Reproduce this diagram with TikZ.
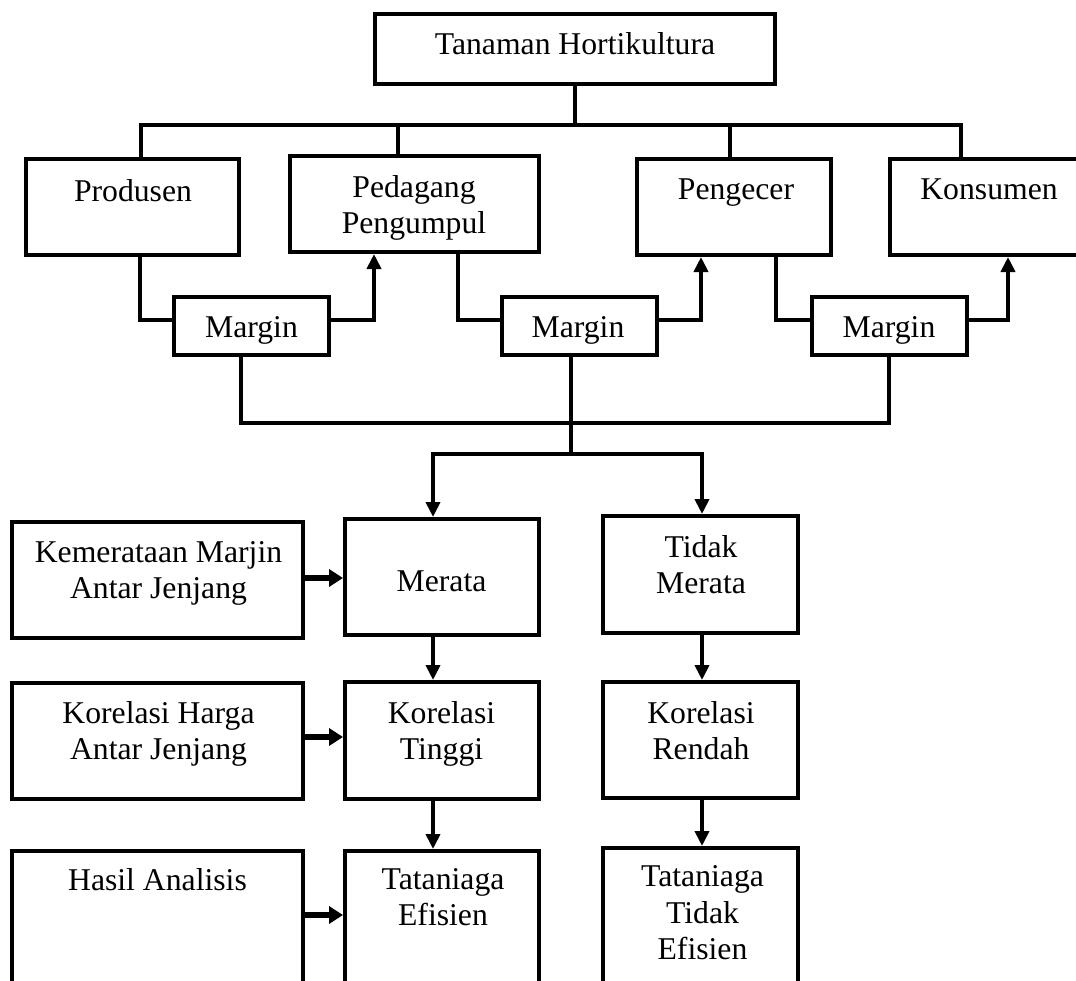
\documentclass[tikz,border=0pt]{standalone}
\usepackage{fontspec}
\setmainfont{Liberation Serif}
\usetikzlibrary{arrows.meta}
\tikzset{
  box/.style={draw, line width=4pt, inner sep=0pt, minimum width=#1},
  txt/.style={font=\fontsize{31.7}{36}\selectfont, align=center, inner sep=0pt, anchor=north},
  ln/.style={line width=4pt},
  arr/.style={line width=4pt, -{Triangle[width=14pt,length=15pt]}},
  harr/.style={line width=6pt, -{Triangle[width=17pt,length=14pt]}}
}
\begin{document}
\begin{tikzpicture}[x=1pt,y=-1pt]
\useasboundingbox (0,0) rectangle (1076,980);
\clip (0,0) rectangle (1076,980);

% boxes
\node[box=400pt, minimum height=70pt] (top) at (575,49) {};
\node[box=213pt, minimum height=96pt] (prod) at (132.5,207) {};
\node[box=249pt, minimum height=96pt] (ped) at (414.5,204) {};
\node[box=194pt, minimum height=96pt] (peng) at (734,207) {};
\node[box=210pt, minimum height=96pt] (kons) at (995,207) {};
\node[box=155pt, minimum height=58pt] (m1) at (251.5,326) {};
\node[box=155pt, minimum height=58pt] (m2) at (579.5,326) {};
\node[box=155pt, minimum height=58pt] (m3) at (889.5,326) {};
\node[box=291pt, minimum height=116pt] (kem) at (157.5,580) {};
\node[box=194pt, minimum height=116pt] (mer) at (442,577) {};
\node[box=195pt, minimum height=117pt] (tm) at (700.5,574.5) {};
\node[box=291pt, minimum height=116pt] (kh) at (157.5,741) {};
\node[box=194pt, minimum height=117pt] (kt) at (442,740.5) {};
\node[box=195pt, minimum height=116pt] (kr) at (700.5,740) {};
\node[box=291pt, minimum height=149pt] (ha) at (157.5,925.5) {};
\node[box=194pt, minimum height=149pt] (te) at (442,925.5) {};
\node[box=195pt, minimum height=152pt] (tte) at (700.5,924) {};

% texts
\node[txt] (topT) at (575,32.5) {Tanaman Hortikultura};
\node[txt] (prodT) at (133,179.5) {Produsen};
\node[txt] (pedT) at (414,175.5) {Pedagang\\Pengumpul};
\node[txt] (pengT) at (736,178.5) {Pengecer};
\node[txt] (konsT) at (989,178.5) {Konsumen};
\node[txt] (m1T) at (251.5,316.5) {Margin};
\node[txt] (m2T) at (578,316.5) {Margin};
\node[txt] (m3T) at (889,316.5) {Margin};
\node[txt] (kemT) at (158.5,541.5) {Kemerataan Marjin\\Antar Jenjang};
\node[txt] (merT) at (441.5,570.5) {Merata};
\node[txt] (tmT) at (701,535.5) {Tidak\\Merata};
\node[txt] (khT) at (158.5,701.5) {Korelasi Harga\\Antar Jenjang};
\node[txt] (ktT) at (441.5,701.5) {Korelasi\\Tinggi};
\node[txt] (krT) at (701,701.5) {Korelasi\\Rendah};
\node[txt] (haT) at (157.5,868.5) {Hasil Analisis};
\node[txt] (teT) at (443,868.5) {Tataniaga\\Efisien};
\node[txt, font=\fontsize{31.7}{36.5}\selectfont] (tteT) at (702.5,865.5) {Tataniaga\\Tidak\\Efisien};

% top bus
\coordinate (busL) at (141,125);
\coordinate (busR) at (961,125);
\coordinate (dPed) at (398,125);
\coordinate (dPeng) at (730,125);
\draw[ln] (top.south) -- (top.south |- busL);
\draw[ln] (prod.north -| busL) -- (busL) -- (busR) -- (kons.north -| busR);
\draw[ln] (dPed) -- (dPed |- ped.north);
\draw[ln] (dPeng) -- (dPeng |- peng.north);

% margin row
\coordinate (ym) at (0,320);
\coordinate (x1) at (140,0);
\coordinate (x2) at (374,0);
\coordinate (x3) at (458,0);
\coordinate (x4) at (701,0);
\coordinate (x5) at (776,0);
\coordinate (x6) at (1008,0);
\draw[ln] (prod.south -| x1) |- (m1.west |- ym);
\draw[arr] (m1.east |- ym) -| (ped.south -| x2);
\draw[ln] (ped.south -| x3) |- (m2.west |- ym);
\draw[arr] (m2.east |- ym) -| (peng.south -| x4);
\draw[ln] (peng.south -| x5) |- (m3.west |- ym);
\draw[arr] (m3.east |- ym) -| (kons.south -| x6);

% lower bus
\coordinate (busB) at (571,423);
\coordinate (xb1) at (241,0);
\coordinate (xb3) at (889,0);
\coordinate (br) at (571,454);
\coordinate (brL) at (433,454);
\coordinate (brR) at (702,454);
\draw[ln] (m1.south -| xb1) |- (busB);
\draw[ln] (m3.south -| xb3) |- (busB);
\draw[ln] (m2.south -| busB) -- (br);
\draw[arr] (br) -| (mer.north -| brL);
\draw[arr] (br) -| (tm.north -| brR);

% vertical arrows
\coordinate (xl) at (433,0);
\coordinate (xr) at (702,0);
\draw[arr] (mer.south -| xl) -- (kt.north -| xl);
\draw[arr] (kt.south -| xl) -- (te.north -| xl);
\draw[arr] (tm.south -| xr) -- (kr.north -| xr);
\draw[arr] (kr.south -| xr) -- (tte.north -| xr);

% horizontal arrows
\coordinate (y1) at (0,578);
\coordinate (y2) at (0,737);
\coordinate (y3) at (0,915);
\draw[harr] (kem.east |- y1) -- (mer.west |- y1);
\draw[harr] (kh.east |- y2) -- (kt.west |- y2);
\draw[harr] (ha.east |- y3) -- (te.west |- y3);
\end{tikzpicture}
\end{document}
